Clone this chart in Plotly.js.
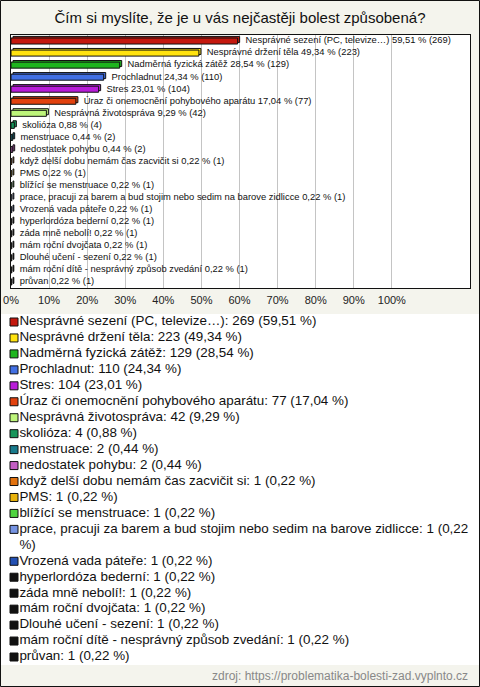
<!DOCTYPE html>
<html>
<head>
<meta charset="utf-8">
<script src="https://cdn.plot.ly/plotly-3.0.1.min.js"></script>
<style>
html,body{margin:0;padding:0;background:#f4f4ed;}
#chart{width:480px;height:687px;}
</style>
</head>
<body>
<div id="chart"></div>
<script>
const titleText = "Čím si myslíte, že je u vás nejčastěji bolest způsobená?";
const categories = [
  "Nesprávné sezení (PC, televize…)",
  "Nesprávné držení těla",
  "Nadměrná fyzická zátěž",
  "Prochladnut",
  "Stres",
  "Úraz či onemocnění pohybového aparátu",
  "Nesprávná životospráva",
  "skolióza",
  "menstruace",
  "nedostatek pohybu",
  "když delší dobu nemám čas zacvičit si",
  "PMS",
  "blížící se menstruace",
  "prace, pracuji za barem a bud stojim nebo sedim na barove zidlicce",
  "Vrozená vada páteře",
  "hyperlordóza bederní",
  "záda mně nebolí!",
  "mám roční dvojčata",
  "Dlouhé učení - sezení",
  "mám roční dítě - nesprávný způsob zvedání",
  "průvan"
];
const counts = [269, 223, 129, 110, 104, 77, 42, 4, 2, 2, 1, 1, 1, 1, 1, 1, 1, 1, 1, 1, 1];
const percents = [59.51, 49.34, 28.54, 24.34, 23.01, 17.04, 9.29, 0.88, 0.44, 0.44, 0.22, 0.22, 0.22, 0.22, 0.22, 0.22, 0.22, 0.22, 0.22, 0.22, 0.22];
const colors = ["#c4180e", "#ffe30f", "#1db51d", "#416fe3", "#b81cd8", "#e2410e", "#bdf47a",
  "#17955a", "#187a8c", "#c45fc4", "#e2720e", "#e8b20c", "#4fd33f", "#7593e2", "#2350b3",
  "#111111", "#111111", "#111111", "#111111", "#111111", "#111111"];
const tickVals = [0, 0.1, 0.2, 0.3, 0.4, 0.5, 0.6, 0.7, 0.8, 0.9, 1.0];
const tickText = ["0%", "10%", "20%", "30%", "40%", "50%", "60%", "70%", "80%", "90%", "100%"];
const sourceText = "zdroj: https://problematika-bolesti-zad.vyplnto.cz";

const fmt = v => v.toFixed(2).replace(".", ",");
const FONT = "Liberation Sans, Arial, sans-serif";
const W = 480, H = 687;

const xs = percents.map(p => p / 100);
const idx = categories.map((c, i) => i);

const plotTop = 35, plotBot = 288, plotL = 11, plotR = 470;
const pxPerUnit = 380;
const n = categories.length;
const rowPx = (plotBot - plotTop) / n;

const traces = [];
// 3D depth face behind each bar
traces.push({
  type: "bar", orientation: "h",
  x: xs, y: idx.map(i => i - 1.6 / rowPx),
  base: 2 / pxPerUnit,
  width: 0.5,
  marker: {color: colors, line: {color: "#111", width: 1}},
  xaxis: "x", yaxis: "y", hoverinfo: "skip", showlegend: false
});
// bars
traces.push({
  type: "bar", orientation: "h",
  x: xs, y: idx,
  width: 0.5,
  marker: {color: colors, line: {color: "#111", width: 1}},
  xaxis: "x", yaxis: "y", hoverinfo: "skip", showlegend: false
});
// bar labels
traces.push({
  type: "scatter", mode: "markers+text",
  x: xs, y: idx,
  text: categories.map((c, i) => c + " " + fmt(percents[i]) + " % (" + counts[i] + ")"),
  textposition: "middle right",
  textfont: {family: FONT, size: 9.4, color: "#111"},
  marker: {size: 11, color: "rgba(0,0,0,0)"},
  xaxis: "x", yaxis: "y", hoverinfo: "skip", showlegend: false, cliponaxis: false
});

// legend built on its own axes
const legendSlots = [];
const lineTexts = [];
const lineSlots = [];
let slot = 0;
categories.forEach((c, i) => {
  const full = c + ": " + counts[i] + " (" + fmt(percents[i]) + " %)";
  legendSlots.push(slot);
  if (full.length > 70) {
    const cut = full.lastIndexOf(" ");
    lineTexts.push(full.slice(0, cut)); lineSlots.push(slot); slot++;
    lineTexts.push(full.slice(cut + 1)); lineSlots.push(slot); slot++;
  } else {
    lineTexts.push(full); lineSlots.push(slot); slot++;
  }
});
const nSlots = slot;
const legX = 14;
traces.push({
  type: "scatter", mode: "markers",
  x: legendSlots.map(() => legX), y: legendSlots,
  marker: {symbol: "square", size: 8, color: colors, line: {color: "#111", width: 1}},
  xaxis: "x2", yaxis: "y2", hoverinfo: "skip", showlegend: false, cliponaxis: false
});
traces.push({
  type: "scatter", mode: "markers+text",
  x: lineSlots.map(() => legX), y: lineSlots,
  text: lineTexts,
  textposition: "middle right",
  textfont: {family: FONT, size: 13.4, color: "#111"},
  marker: {symbol: "square", size: 7, color: "rgba(0,0,0,0)"},
  xaxis: "x2", yaxis: "y2", hoverinfo: "skip", showlegend: false, cliponaxis: false
});

const legFirst = 322, legLast = 657;
const legStep = (legLast - legFirst) / (nSlots - 1);
const legTop = legFirst - legStep / 2, legBot = legTop + nSlots * legStep;

const layout = {
  width: W, height: H,
  margin: {l: 0, r: 0, t: 0, b: 0},
  paper_bgcolor: "#f4f4ed",
  plot_bgcolor: "#ffffff",
  showlegend: false,
  barmode: "overlay",
  title: {text: titleText, font: {family: FONT, size: 15, color: "#111"}, x: 0.5, xanchor: "center", y: 1 - 18 / H, yanchor: "middle"},
  xaxis: {
    domain: [plotL / W, plotR / W],
    range: [0, (plotR - plotL - 1) / pxPerUnit],
    tickvals: tickVals, ticktext: tickText,
    tickfont: {family: FONT, size: 11, color: "#222"},
    ticks: "", ticklen: 0, ticklabelstandoff: 2,
    showgrid: true, gridcolor: "#c4c4c4", gridwidth: 1,
    zeroline: false, showline: true, linecolor: "#111", linewidth: 1, mirror: true,
    anchor: "y", fixedrange: true
  },
  yaxis: {
    domain: [1 - plotBot / H, 1 - plotTop / H],
    range: [n - 0.5, -0.5],
    showticklabels: false, ticks: "", showgrid: false, zeroline: false,
    showline: true, linecolor: "#111", linewidth: 1, mirror: true,
    anchor: "x", fixedrange: true
  },
  xaxis2: {domain: [0, 1], range: [0, W], visible: false, anchor: "y2", fixedrange: true},
  yaxis2: {domain: [1 - legBot / H, 1 - legTop / H], range: [nSlots - 0.5, -0.5], visible: false, anchor: "x2", fixedrange: true},
  annotations: [{
    text: sourceText, xref: "paper", yref: "paper", x: 1 - 10 / W, y: 1 - 676 / H,
    xanchor: "right", yanchor: "middle", showarrow: false,
    font: {family: FONT, size: 12, color: "#888"}
  }],
  shapes: [{
    type: "rect", xref: "paper", yref: "paper", x0: 0.5 / W, x1: 1 - 0.5 / W, y0: 0.5 / H, y1: 1 - 0.5 / H,
    line: {color: "#111", width: 1}, fillcolor: "rgba(0,0,0,0)", layer: "above"
  }]
};

Plotly.newPlot("chart", traces, layout, {displayModeBar: false, staticPlot: true});
</script>
</body>
</html>
